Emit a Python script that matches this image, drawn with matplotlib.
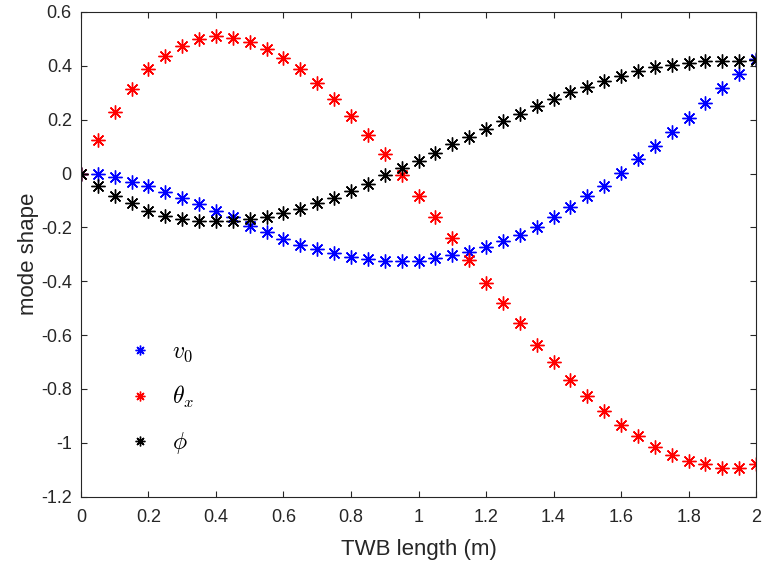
import numpy as np
import matplotlib.pyplot as plt

plt.rcParams['font.family'] = ['Liberation Sans', 'DejaVu Sans']
plt.rcParams['mathtext.fontset'] = 'cm'

x = np.round(np.arange(0, 2.0001, 0.05), 2)

v0 = [0, 0.0, -0.014, -0.030, -0.045, -0.069, -0.090, -0.113, -0.140, -0.160,
      -0.196, -0.218, -0.243, -0.264, -0.279, -0.295, -0.309, -0.317, -0.325, -0.325,
      -0.325, -0.312, -0.304, -0.290, -0.274, -0.252, -0.228, -0.198, -0.160, -0.125,
      -0.085, -0.045, 0.001, 0.052, 0.103, 0.154, 0.206, 0.261, 0.317, 0.368, 0.424]

theta_x = [0, 0.123, 0.230, 0.315, 0.388, 0.437, 0.473, 0.500, 0.509, 0.504,
           0.490, 0.464, 0.429, 0.387, 0.337, 0.278, 0.214, 0.144, 0.073, -0.004,
           -0.085, -0.162, -0.240, -0.323, -0.405, -0.481, -0.556, -0.635, -0.699, -0.765,
           -0.826, -0.882, -0.934, -0.973, -1.015, -1.046, -1.067, -1.080, -1.092, -1.092, -1.080]

phi = [0, -0.047, -0.082, -0.110, -0.139, -0.157, -0.169, -0.176, -0.177, -0.176,
       -0.169, -0.162, -0.145, -0.133, -0.109, -0.090, -0.066, -0.038, -0.007, 0.019,
       0.047, 0.077, 0.109, 0.135, 0.165, 0.194, 0.220, 0.250, 0.278, 0.301,
       0.323, 0.345, 0.363, 0.379, 0.394, 0.403, 0.410, 0.419, 0.419, 0.419, 0.423]

fig = plt.figure(figsize=(7.63, 5.67), dpi=100)
ax = fig.add_axes([0.106, 0.124, 0.885, 0.855])

star = (8, 2, 0)
ax.plot(x, v0, linestyle='none', marker=star, ms=10, mew=1, color='#0000ff', label=r'$v_0$')
ax.plot(x, theta_x, linestyle='none', marker=star, ms=10, mew=1, color='#ff0000', label=r'$\theta_x$')
ax.plot(x, phi, linestyle='none', marker=star, ms=10, mew=1, color='#000000', label=r'$\phi$')

ax.set_xlim(0, 2)
ax.set_ylim(-1.2, 0.6)
ax.set_xticks(np.arange(0, 2.01, 0.2))
ax.set_xticklabels(['0', '0.2', '0.4', '0.6', '0.8', '1', '1.2', '1.4', '1.6', '1.8', '2'])
ax.set_yticks(np.arange(-1.2, 0.61, 0.2))
ax.set_yticklabels(['-1.2', '-1', '-0.8', '-0.6', '-0.4', '-0.2', '0', '0.2', '0.4', '0.6'])
ax.tick_params(direction='in', top=True, right=True, labelsize=13, colors='#262626', length=4.5)
ax.tick_params(axis='x', pad=9)
ax.tick_params(axis='y', pad=6.5)
for s in ax.spines.values():
    s.set_color('#262626')
ax.set_xlabel('TWB length (m)', fontsize=16, color='#262626', labelpad=9)
ax.set_ylabel('mode shape', fontsize=16, color='#262626', labelpad=1)

leg = ax.legend(loc='upper left', bbox_to_anchor=(0.03, 0.365), frameon=False,
                fontsize=17, markerscale=0.7, handlelength=1.5, handletextpad=0.6,
                labelspacing=0.85)

fig.savefig('out.png')
